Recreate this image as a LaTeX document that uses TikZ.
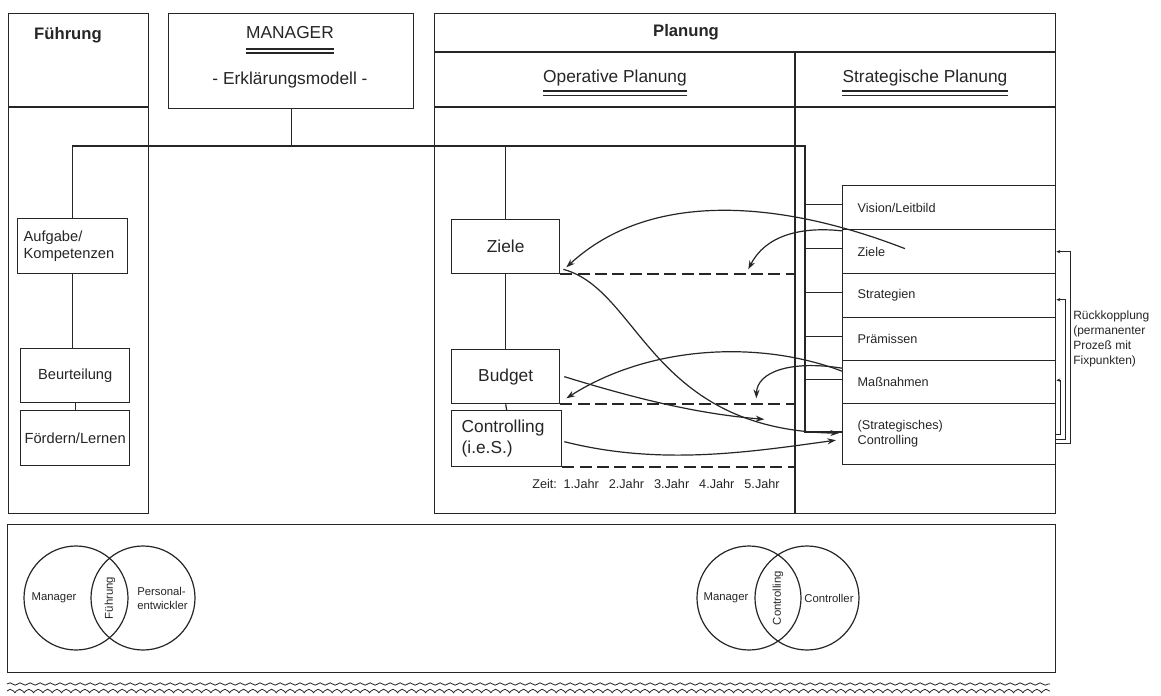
\documentclass[tikz,border=0pt]{standalone}
\usepackage{fontspec}
\setmainfont{Liberation Sans}
\usetikzlibrary{arrows.meta,decorations.pathmorphing,calc}
\definecolor{ink}{gray}{0.15}
\begin{document}
\begin{tikzpicture}[x=0.75pt,y=-0.75pt,
  box/.style 2 args={draw=ink, line width=1pt, inner sep=0pt, anchor=north west,
     minimum width={#1*0.75pt}, minimum height={#2*0.75pt}},
  txt/.style={inner sep=0pt, text=ink},
  big/.style={txt, font=\fontsize{13}{15.5}\selectfont},
  head/.style={txt, font=\bfseries\fontsize{12.5}{15}\selectfont},
  mid/.style={txt, font=\fontsize{11}{12.8}\selectfont},
  sml/.style={txt, font=\fontsize{9.5}{11.3}\selectfont},
  srow/.style={sml, align=left, text width=137.25pt},
  tiny/.style={txt, font=\fontsize{9}{11.25}\selectfont},
  vt/.style={txt, font=\fontsize{8.5}{10.5}\selectfont},
  ln/.style={draw=ink, line width=0.9pt},
  ul/.style={draw=ink, line width=0.8pt},
  dsh/.style={draw=ink, line width=1.5pt, dash pattern=on 9pt off 4pt},
  arr/.style={draw=ink, line width=0.9pt, -{Stealth[length=6.5pt,width=4.5pt]}},
  fb/.style={draw=ink, line width=0.8pt, -{Stealth[length=3pt,width=2.5pt]}},
  venn/.style={circle, draw=ink, line width=0.9pt, minimum size=78pt, inner sep=0pt},
]
\useasboundingbox (0,0) rectangle (1161,696);
\fill[white] (0,0) rectangle (1161,696);

% ---------- frames ----------
\node[box={140}{500}] (fcol) at (8,13) {};
\node[box={245}{95}] (mgr) at (168,13) {};
\node[box={621}{500}] (pcol) at (434,13) {};
\node[box={1048}{148}] (panel) at (7,524) {};
\coordinate (fh) at (8,107);
\draw[ln, line width=1pt] (fh) -- (fh -| fcol.east);
\coordinate (ph1) at (434,52);
\coordinate (ph2) at (434,107);
\draw[ln, line width=1pt] (ph1) -- (ph1 -| pcol.east);
\draw[ln, line width=1pt] (ph2) -- (ph2 -| pcol.east);
\coordinate (dv) at (795,52);
\draw[ln, line width=1pt] (dv) -- (dv |- pcol.south);

% ---------- header texts ----------
\node[head] (tfu) at (68,35) {Führung};
\node[big] (tmg) at (290,33) {MANAGER};
\draw[ul] ($(tmg.base west)+(0,10)$) -- ($(tmg.base east)+(0,10)$);
\draw[ul] ($(tmg.base west)+(0,14)$) -- ($(tmg.base east)+(0,14)$);
\node[big] (terk) at (290,80) {- Erklärungsmodell -};
\node[head] (tpl) at (686,32) {Planung};
\node[big] (top) at (615,78) {Operative Planung};
\draw[ul] ($(top.base west)+(0,8.5)$) -- ($(top.base east)+(0,8.5)$);
\draw[ul] ($(top.base west)+(0,13)$) -- ($(top.base east)+(0,13)$);
\node[big] (tsp) at (925,78) {Strategische Planung};
\draw[ul] ($(tsp.base west)+(0,8.5)$) -- ($(tsp.base east)+(0,8.5)$);
\draw[ul] ($(tsp.base west)+(0,13)$) -- ($(tsp.base east)+(0,13)$);

% ---------- Fuehrung boxes ----------
\node[box={110}{55}, mid, align=left, text width=73.5pt] (aufg) at (17,218) {Aufgabe/\\Kompetenzen};
\node[box={109}{54}, mid] (beur) at (20,348) {Beurteilung};
\node[box={109}{55}, mid] (foerd) at (20,410) {Fördern/Lernen};

% ---------- operative boxes ----------
\node[box={108}{54}, big] (ziele) at (451,219) {Ziele};
\node[box={108}{54}, big] (budget) at (451,349) {Budget};
\node[box={110}{56}, big, align=left, text width=67.5pt] (ctrl) at (451,410) {Controlling\\(i.e.S.)};

% ---------- strategic rows ----------
\node[box={213}{44}, srow] (svis) at (842,185) {Vision/Leitbild};
\node[box={213}{44}, srow] (szi) at (842,229) {Ziele};
\node[box={213}{44}, srow] (sstr) at (842,273) {Strategien};
\node[box={213}{43}, srow] (spra) at (842,317) {Prämissen};
\node[box={213}{43}, srow] (smass) at (842,360) {Maßnahmen};
\node[box={213}{61}, srow] (sctrl) at (842,403) {(Strategisches)\\Controlling};

% ---------- tree connectors ----------
\coordinate (jR) at (805,146);
\coordinate (jC) at (805,432);
\draw[ln] (aufg.north) |- (jR) -- (jC) -- (jC -| sctrl.west);
\draw[ln] (mgr.south) -- (mgr.south |- jR);
\draw[ln] (ziele.north) -- (ziele.north |- jR);
\draw[ln] (ziele.south) -- (budget.north);
\draw[ln] (budget.south) -- (ctrl.north);
\draw[ln] (aufg.south) -- (aufg.south |- beur.north);
\draw[ln] (beur.south) -- (foerd.north);
\foreach \r in {svis,szi,sstr,spra,smass}
  \draw[ln] ($(jR |- \r.west)+(0,-3)$) -- ($(\r.west)+(0,-3)$);

% ---------- time lines ----------
\draw[dsh] (ziele.south east) -- (ziele.south east -| dv);
\draw[dsh] (budget.south east) -- (budget.south east -| dv);
\draw[dsh] (ctrl.south east) -- (ctrl.south east -| dv);
\node[sml] (zeit) at (656,484) {Zeit:\hspace{5pt}1.Jahr\hspace{7.5pt}2.Jahr\hspace{7.5pt}3.Jahr\hspace{7.5pt}4.Jahr\hspace{7.5pt}5.Jahr};

% ---------- curved arrows ----------
\draw[arr] ($(szi.west)+(63,-3)$) .. controls (780,200) and (650,190) .. ($(ziele.south east)+(6,-7)$);
\draw[arr] ($(szi.north west)+(1,2)$) .. controls (800,226) and (765,236) .. ($(ziele.south east)+(188,-5)$);
\draw[arr] ($(ziele.south east)+(3,-5)$) .. controls (640,290) and (650,430) .. ($(sctrl.west)+(-3,-1)$);
\draw[arr] ($(budget.east)+(4,0)$) .. controls (640,400) and (700,414) .. ($(budget.south east)+(204,15)$);
\draw[arr] ($(ctrl.east)+(2,3)$) .. controls (660,466) and (750,452) .. ($(sctrl.west)+(-6,6)$);
\draw[arr] ($(smass.west)+(0,-11)$) .. controls (760,340) and (650,345) .. ($(budget.south east)+(6,-6)$);
\draw[arr] ($(smass.west)+(0,-14)$) .. controls (790,360) and (757,372) .. ($(budget.south east)+(196,-6)$);

% ---------- feedback brackets ----------
\draw[fb] ($(sctrl.east)+(0,9)$) -| ($(szi.east)+(14,0)$) -- (szi.east);
\draw[fb] ($(sctrl.east)+(0,5)$) -| ($(sstr.east)+(9,4)$) -- ($(sstr.east)+(0,4)$);
\draw[fb] (sctrl.east) -| ($(smass.east)+(4,-2)$) -- ($(smass.east)+(0,-2)$);
\node[tiny, anchor=north west, align=left] (rk) at (1073,311) {Rückkopplung\\(permanenter\\Prozeß mit\\Fixpunkten)};

% ---------- Venn diagrams ----------
\node[venn] (va1) at (76,598) {};
\node[venn] (va2) at (143,598) {};
\node[vt] (tma1) at (54,598) {Manager};
\node[vt, rotate=90] (tfu2) at (110,598) {Führung};
\node[vt, align=left, anchor=west] (tpe) at (137,598) {Personal-\\entwickler};
\node[venn] (vb1) at (749,598) {};
\node[venn] (vb2) at (807,598) {};
\node[vt] (tma2) at (726,598) {Manager};
\node[vt, rotate=90] (tco) at (778,598) {Controlling};
\node[vt] (tcr) at (829,598) {Controller};

% ---------- wavy lines ----------
\coordinate (w1) at (7,684);
\coordinate (w2) at (1050,684);
\coordinate (w3) at (7,691);
\coordinate (w4) at (1050,691);
\draw[ink, line width=0.6pt, decorate, decoration={snake, amplitude=0.9pt, segment length=7.5pt}] (w1) -- (w2);
\draw[ink, line width=0.6pt, decorate, decoration={coil, amplitude=1.3pt, segment length=7pt, aspect=0.5}] (w3) -- (w4);
\end{tikzpicture}
\end{document}
